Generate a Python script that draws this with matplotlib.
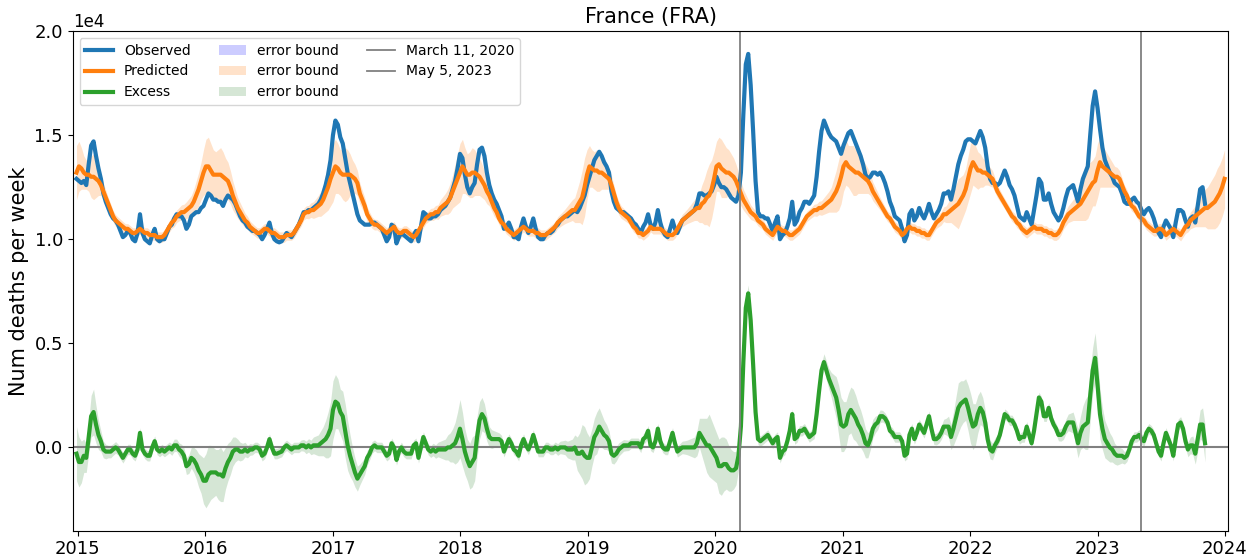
import numpy as np
import matplotlib
matplotlib.use("Agg")
import matplotlib.pyplot as plt
import matplotlib.dates as mdates

# Weekly values, in units of 10,000 deaths, first week ending 2014-12-28
observed = [
    1.29, 1.28, 1.27, 1.28, 1.26, 1.36, 1.45, 1.47, 1.40, 1.34,
    1.29, 1.22, 1.18, 1.15, 1.12, 1.10, 1.09, 1.07, 1.04, 1.01,
    1.02, 1.04, 1.03, 1.00, 0.99, 1.03, 1.12, 1.03, 1.00, 0.99,
    0.98, 1.02, 1.05, 1.00, 0.99, 1.00, 1.00, 1.03, 1.06, 1.07,
    1.10, 1.12, 1.11, 1.11, 1.09, 1.05, 1.07, 1.11, 1.12, 1.13,
    1.13, 1.15, 1.16, 1.19, 1.22, 1.21, 1.19, 1.19, 1.18, 1.18,
    1.16, 1.19, 1.21, 1.20, 1.19, 1.17, 1.14, 1.11, 1.09, 1.08,
    1.06, 1.05, 1.04, 1.04, 1.03, 1.02, 1.00, 1.02, 1.05, 1.08,
    1.03, 1.00, 0.99, 0.985, 0.99, 1.01, 1.03, 1.02, 1.01, 1.03,
    1.05, 1.07, 1.10, 1.13, 1.13, 1.14, 1.14, 1.15, 1.16, 1.17,
    1.19, 1.22, 1.26, 1.31, 1.38, 1.50, 1.57, 1.55, 1.49, 1.46,
    1.39, 1.32, 1.27, 1.22, 1.17, 1.12, 1.09, 1.08, 1.07, 1.07,
    1.07, 1.08, 1.08, 1.07, 1.06, 1.05, 1.02, 0.99, 1.01, 1.07,
    1.06, 0.98, 1.01, 1.03, 1.02, 1.01, 1.00, 0.99, 1.02, 1.04,
    0.99, 1.06, 1.13, 1.12, 1.10, 1.10, 1.11, 1.11, 1.12, 1.14,
    1.15, 1.16, 1.18, 1.20, 1.24, 1.28, 1.34, 1.41, 1.39, 1.31,
    1.25, 1.22, 1.25, 1.27, 1.36, 1.43, 1.44, 1.40, 1.32, 1.26,
    1.22, 1.19, 1.17, 1.14, 1.11, 1.05, 1.06, 1.08, 1.05, 1.01,
    1.01, 1.00, 1.06, 1.10, 1.06, 1.03, 1.06, 1.10, 1.05, 1.01,
    1.00, 1.00, 1.02, 1.03, 1.03, 1.04, 1.06, 1.07, 1.09, 1.10,
    1.11, 1.11, 1.12, 1.13, 1.14, 1.13, 1.15, 1.18, 1.21, 1.26,
    1.30, 1.34, 1.38, 1.40, 1.42, 1.40, 1.37, 1.35, 1.32, 1.23,
    1.18, 1.15, 1.14, 1.13, 1.13, 1.12, 1.11, 1.10, 1.08, 1.07,
    1.05, 1.03, 1.06, 1.08, 1.12, 1.07, 1.05, 1.08, 1.14, 1.08,
    1.04, 1.02, 1.01, 1.05, 1.09, 1.05, 1.03, 1.06, 1.09, 1.10,
    1.11, 1.12, 1.13, 1.14, 1.17, 1.22, 1.22, 1.21, 1.21, 1.22,
    1.23, 1.26, 1.30, 1.27, 1.25, 1.25, 1.24, 1.22, 1.20, 1.19,
    1.18, 1.21, 1.32, 1.60, 1.84, 1.89, 1.74, 1.52, 1.28, 1.13,
    1.11, 1.11, 1.10, 1.10, 1.07, 1.04, 1.08, 1.11, 1.00, 1.02,
    1.03, 1.06, 1.10, 1.18, 1.07, 1.09, 1.13, 1.15, 1.18, 1.18,
    1.17, 1.19, 1.21, 1.30, 1.42, 1.52, 1.57, 1.54, 1.51, 1.49,
    1.48, 1.47, 1.44, 1.41, 1.45, 1.48, 1.51, 1.52, 1.49, 1.46,
    1.43, 1.40, 1.36, 1.31, 1.29, 1.30, 1.32, 1.32, 1.31, 1.32,
    1.30, 1.27, 1.23, 1.18, 1.15, 1.11, 1.10, 1.09, 1.05, 0.99,
    1.02, 1.12, 1.14, 1.09, 1.11, 1.15, 1.12, 1.10, 1.13, 1.17,
    1.13, 1.10, 1.12, 1.14, 1.17, 1.22, 1.22, 1.23, 1.19, 1.24,
    1.30, 1.36, 1.40, 1.43, 1.47, 1.48, 1.48, 1.47, 1.46, 1.49,
    1.52, 1.49, 1.44, 1.35, 1.29, 1.27, 1.27, 1.26, 1.27, 1.30,
    1.33, 1.30, 1.26, 1.24, 1.21, 1.16, 1.11, 1.10, 1.09, 1.13,
    1.10, 1.07, 1.14, 1.21, 1.29, 1.27, 1.19, 1.19, 1.22, 1.17,
    1.13, 1.11, 1.09, 1.11, 1.15, 1.20, 1.24, 1.25, 1.26, 1.22,
    1.18, 1.24, 1.29, 1.32, 1.35, 1.50, 1.64, 1.71, 1.63, 1.53,
    1.44, 1.38, 1.35, 1.32, 1.30, 1.27, 1.26, 1.25, 1.22, 1.18,
    1.17, 1.17, 1.19, 1.20, 1.18, 1.17, 1.14, 1.12, 1.14, 1.15,
    1.13, 1.10, 1.06, 1.03, 1.01, 1.06, 1.09, 1.07, 1.05, 1.01,
    1.08, 1.14, 1.14, 1.13, 1.09, 1.06, 1.10, 1.11, 1.08, 1.16,
    1.24, 1.25, 1.17,
]

predicted = [
    1.32, 1.35, 1.34, 1.32, 1.31, 1.31, 1.30, 1.30, 1.29, 1.28,
    1.26, 1.23, 1.20, 1.17, 1.14, 1.11, 1.09, 1.08, 1.07, 1.06,
    1.05, 1.05, 1.04, 1.03, 1.03, 1.04, 1.05, 1.04, 1.03, 1.03,
    1.02, 1.02, 1.02, 1.01, 1.01, 1.01, 1.02, 1.04, 1.06, 1.08,
    1.09, 1.11, 1.12, 1.13, 1.13, 1.14, 1.15, 1.16, 1.18, 1.21,
    1.24, 1.28, 1.32, 1.35, 1.35, 1.33, 1.31, 1.31, 1.31, 1.31,
    1.30, 1.29, 1.28, 1.25, 1.21, 1.18, 1.15, 1.13, 1.11, 1.09,
    1.08, 1.06, 1.05, 1.04, 1.03, 1.03, 1.04, 1.05, 1.05, 1.04,
    1.03, 1.03, 1.02, 1.01, 1.01, 1.01, 1.02, 1.02, 1.02, 1.03,
    1.05, 1.07, 1.09, 1.12, 1.13, 1.13, 1.14, 1.14, 1.15, 1.16,
    1.17, 1.19, 1.22, 1.25, 1.29, 1.32, 1.35, 1.34, 1.32, 1.31,
    1.31, 1.31, 1.31, 1.30, 1.29, 1.27, 1.22, 1.19, 1.16, 1.12,
    1.10, 1.08, 1.07, 1.07, 1.06, 1.05, 1.04, 1.03, 1.04, 1.05,
    1.06, 1.04, 1.03, 1.03, 1.04, 1.04, 1.03, 1.02, 1.01, 1.02,
    1.04, 1.06, 1.08, 1.10, 1.11, 1.12, 1.12, 1.13, 1.13, 1.15,
    1.16, 1.17, 1.18, 1.20, 1.23, 1.26, 1.29, 1.32, 1.35, 1.33,
    1.31, 1.31, 1.32, 1.32, 1.31, 1.30, 1.28, 1.26, 1.23, 1.21,
    1.18, 1.15, 1.13, 1.10, 1.08, 1.07, 1.05, 1.04, 1.03, 1.02,
    1.03, 1.04, 1.05, 1.06, 1.05, 1.04, 1.04, 1.04, 1.03, 1.03,
    1.02, 1.02, 1.02, 1.03, 1.04, 1.05, 1.06, 1.08, 1.09, 1.10,
    1.11, 1.12, 1.13, 1.14, 1.14, 1.16, 1.18, 1.20, 1.25, 1.31,
    1.35, 1.34, 1.33, 1.33, 1.32, 1.32, 1.31, 1.30, 1.29, 1.26,
    1.22, 1.18, 1.15, 1.13, 1.12, 1.11, 1.10, 1.08, 1.06, 1.05,
    1.03, 1.03, 1.02, 1.03, 1.04, 1.06, 1.05, 1.05, 1.05, 1.05,
    1.04, 1.03, 1.02, 1.02, 1.02, 1.03, 1.05, 1.07, 1.09, 1.10,
    1.11, 1.12, 1.13, 1.14, 1.15, 1.15, 1.17, 1.18, 1.20, 1.21,
    1.24, 1.29, 1.35, 1.36, 1.34, 1.33, 1.32, 1.32, 1.31, 1.30,
    1.28, 1.25, 1.22, 1.19, 1.17, 1.15, 1.13, 1.12, 1.11, 1.09,
    1.08, 1.07, 1.05, 1.04, 1.03, 1.02, 1.04, 1.06, 1.05, 1.04,
    1.04, 1.03, 1.02, 1.02, 1.03, 1.04, 1.05, 1.07, 1.09, 1.11,
    1.12, 1.13, 1.14, 1.14, 1.15, 1.15, 1.16, 1.17, 1.18, 1.19,
    1.21, 1.23, 1.26, 1.30, 1.35, 1.37, 1.35, 1.34, 1.33, 1.32,
    1.32, 1.31, 1.30, 1.29, 1.28, 1.26, 1.23, 1.21, 1.19, 1.17,
    1.15, 1.13, 1.11, 1.10, 1.08, 1.06, 1.05, 1.04, 1.02, 1.03,
    1.05, 1.06, 1.05, 1.05, 1.04, 1.04, 1.03, 1.03, 1.02, 1.02,
    1.04, 1.06, 1.08, 1.09, 1.10, 1.12, 1.12, 1.13, 1.14, 1.15,
    1.16, 1.17, 1.19, 1.21, 1.24, 1.29, 1.34, 1.37, 1.35, 1.33,
    1.33, 1.32, 1.32, 1.31, 1.30, 1.29, 1.26, 1.23, 1.21, 1.19,
    1.17, 1.15, 1.13, 1.11, 1.10, 1.08, 1.07, 1.05, 1.04, 1.03,
    1.04, 1.05, 1.06, 1.05, 1.05, 1.05, 1.04, 1.04, 1.03, 1.03,
    1.02, 1.02, 1.03, 1.05, 1.08, 1.10, 1.12, 1.13, 1.14, 1.15,
    1.16, 1.17, 1.19, 1.21, 1.23, 1.25, 1.27, 1.28, 1.33, 1.37,
    1.35, 1.34, 1.33, 1.32, 1.31, 1.30, 1.30, 1.29, 1.26, 1.23,
    1.21, 1.18, 1.16, 1.15, 1.13, 1.11, 1.10, 1.09, 1.07, 1.06,
    1.05, 1.04, 1.04, 1.05, 1.05, 1.04, 1.02, 1.03, 1.04, 1.05,
    1.04, 1.03, 1.02, 1.04, 1.06, 1.07, 1.09, 1.10, 1.11, 1.12,
    1.13, 1.14, 1.15, 1.15, 1.16, 1.17, 1.18, 1.20, 1.22, 1.25,
    1.29,
]

# Half-width of the prediction error bound (same units)
pred_err = [
    0.13, 0.12, 0.10, 0.08, 0.07, 0.08, 0.10, 0.11, 0.09, 0.07,
    0.05, 0.04, 0.035, 0.03, 0.03, 0.028, 0.028, 0.026, 0.026, 0.025,
    0.025, 0.025, 0.025, 0.025, 0.025, 0.025, 0.025, 0.025, 0.025, 0.025,
    0.025, 0.025, 0.025, 0.025, 0.025, 0.025, 0.025, 0.026, 0.026, 0.028,
    0.03, 0.03, 0.032, 0.035, 0.038, 0.04, 0.045, 0.05, 0.06, 0.07,
    0.08, 0.09, 0.11, 0.13, 0.14, 0.13, 0.12, 0.11, 0.12, 0.13,
    0.12, 0.10, 0.09, 0.08, 0.07, 0.06, 0.05, 0.045, 0.04, 0.035,
    0.03, 0.028, 0.026, 0.025, 0.025, 0.025, 0.025, 0.025, 0.025, 0.025,
    0.025, 0.025, 0.025, 0.025, 0.025, 0.025, 0.025, 0.025, 0.025, 0.025,
    0.025, 0.025, 0.026, 0.028, 0.03, 0.032, 0.035, 0.04, 0.045, 0.05,
    0.06, 0.07, 0.09, 0.11, 0.13, 0.14, 0.13, 0.12, 0.11, 0.12,
    0.13, 0.12, 0.10, 0.08, 0.07, 0.06, 0.05, 0.045, 0.04, 0.035,
    0.03, 0.028, 0.026, 0.025, 0.025, 0.025, 0.025, 0.025, 0.025, 0.025,
    0.025, 0.025, 0.025, 0.025, 0.025, 0.025, 0.025, 0.025, 0.025, 0.025,
    0.025, 0.025, 0.025, 0.025, 0.026, 0.028, 0.03, 0.032, 0.035, 0.04,
    0.045, 0.05, 0.06, 0.07, 0.08, 0.10, 0.12, 0.14, 0.13, 0.11,
    0.10, 0.11, 0.12, 0.11, 0.10, 0.09, 0.08, 0.07, 0.06, 0.05,
    0.045, 0.04, 0.035, 0.03, 0.028, 0.026, 0.025, 0.025, 0.025, 0.025,
    0.025, 0.025, 0.025, 0.025, 0.025, 0.025, 0.025, 0.025, 0.025, 0.025,
    0.025, 0.025, 0.025, 0.025, 0.025, 0.025, 0.026, 0.028, 0.03, 0.032,
    0.035, 0.04, 0.045, 0.05, 0.06, 0.08, 0.10, 0.13, 0.14, 0.12,
    0.10, 0.09, 0.09, 0.10, 0.09, 0.08, 0.07, 0.06, 0.05, 0.045,
    0.04, 0.035, 0.032, 0.03, 0.028, 0.026, 0.025, 0.025, 0.025, 0.025,
    0.025, 0.025, 0.025, 0.025, 0.025, 0.025, 0.025, 0.025, 0.025, 0.025,
    0.025, 0.025, 0.025, 0.025, 0.025, 0.025, 0.026, 0.028, 0.03, 0.032,
    0.035, 0.04, 0.045, 0.05, 0.06, 0.07, 0.09, 0.11, 0.13, 0.15,
    0.14, 0.13, 0.12, 0.13, 0.14, 0.13, 0.12, 0.11, 0.10, 0.09,
    0.08, 0.07, 0.06, 0.05, 0.045, 0.04, 0.035, 0.03, 0.028, 0.026,
    0.025, 0.025, 0.025, 0.025, 0.025, 0.025, 0.025, 0.025, 0.025, 0.025,
    0.025, 0.025, 0.025, 0.025, 0.025, 0.025, 0.025, 0.025, 0.025, 0.025,
    0.025, 0.026, 0.028, 0.03, 0.032, 0.035, 0.04, 0.045, 0.05, 0.06,
    0.08, 0.10, 0.12, 0.13, 0.12, 0.11, 0.10, 0.11, 0.12, 0.11,
    0.10, 0.09, 0.08, 0.07, 0.06, 0.05, 0.045, 0.04, 0.035, 0.03,
    0.028, 0.026, 0.025, 0.025, 0.025, 0.025, 0.025, 0.025, 0.025, 0.025,
    0.025, 0.025, 0.025, 0.025, 0.025, 0.025, 0.025, 0.025, 0.025, 0.025,
    0.025, 0.026, 0.028, 0.03, 0.032, 0.035, 0.04, 0.05, 0.06, 0.08,
    0.10, 0.12, 0.11, 0.10, 0.10, 0.11, 0.12, 0.11, 0.10, 0.09,
    0.08, 0.07, 0.06, 0.05, 0.045, 0.04, 0.035, 0.03, 0.028, 0.026,
    0.025, 0.025, 0.025, 0.025, 0.025, 0.025, 0.025, 0.025, 0.025, 0.025,
    0.025, 0.025, 0.025, 0.025, 0.025, 0.025, 0.025, 0.025, 0.025, 0.025,
    0.025, 0.026, 0.028, 0.03, 0.032, 0.035, 0.04, 0.045, 0.05, 0.06,
    0.07, 0.08, 0.10, 0.12, 0.13, 0.12, 0.11, 0.12, 0.13, 0.12,
    0.10, 0.09, 0.08, 0.07, 0.06, 0.05, 0.045, 0.04, 0.035, 0.03,
    0.028, 0.026, 0.025, 0.025, 0.025, 0.025, 0.025, 0.025, 0.025, 0.025,
    0.025, 0.025, 0.025, 0.025, 0.025, 0.025, 0.025, 0.025, 0.025, 0.025,
    0.025, 0.026, 0.028, 0.03, 0.032, 0.035, 0.04, 0.045, 0.05, 0.06,
    0.07, 0.08, 0.09, 0.10, 0.11, 0.12, 0.13, 0.14, 0.14, 0.14,
    0.14,
]

first_week = "2014-12-28"
event_dates = ["2020-03-11", "2023-05-05"]
event_labels = ["March 11, 2020", "May 5, 2023"]
title = "France (FRA)"
ylabel = "Num deaths per week"

scale = 1e4
obs = np.array(observed) * scale
pred = np.array(predicted) * scale
err = np.array(pred_err) * scale
n_obs = len(obs)
excess = obs - pred[:n_obs]

start = np.datetime64(first_week)
weeks_pred = start + np.arange(len(pred)) * np.timedelta64(7, "D")
weeks_obs = weeks_pred[:n_obs]

fig = plt.figure(figsize=(12.59, 5.6), dpi=100)
ax = fig.add_axes([0.0577, 0.0523, 0.918, 0.8923])

b_obs = ax.fill_between(weeks_obs, obs, obs, color="b", alpha=0.2, lw=0)
b_pred = ax.fill_between(weeks_pred, pred - err, pred + err, color="C1", alpha=0.22, lw=0)
b_exc = ax.fill_between(weeks_obs, excess - err[:n_obs], excess + err[:n_obs],
                        color="#9dc49d", alpha=0.42, lw=0)

l_obs, = ax.plot(weeks_obs, obs, color="C0", lw=3, label="Observed")
l_pred, = ax.plot(weeks_pred, pred, color="C1", lw=3, label="Predicted")
ax.axhline(0, color="grey", lw=1.5)
l_exc, = ax.plot(weeks_obs, excess, color="C2", lw=3, label="Excess")

vlines = []
for d, lab in zip(event_dates, event_labels):
    vlines.append(ax.axvline(np.datetime64(d), color="grey", lw=1.3, label=lab))

ax.set_xlim(np.datetime64("2014-12-17"), np.datetime64("2024-01-11"))
ax.set_ylim(-0.40 * scale, 2.0 * scale)
ax.xaxis.set_major_locator(mdates.YearLocator())
ax.xaxis.set_major_formatter(mdates.DateFormatter("%Y"))
ax.ticklabel_format(axis="y", style="sci", scilimits=(0, 0))
ax.tick_params(labelsize=13)
ax.yaxis.get_offset_text().set_fontsize(12)

ax.set_title(title, fontsize=15)
ax.set_ylabel(ylabel, fontsize=15)

handles = [l_obs, l_pred, l_exc, b_obs, b_pred, b_exc] + vlines
labels = ["Observed", "Predicted", "Excess", "error bound", "error bound",
          "error bound"] + event_labels
ax.legend(handles, labels, loc="upper left", ncol=3, fontsize=10)

fig.savefig("out.png", dpi=100)
